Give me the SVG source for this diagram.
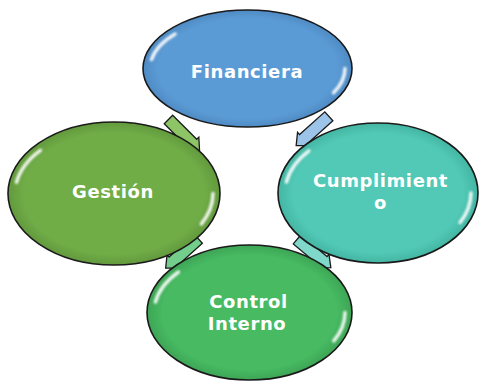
<svg xmlns="http://www.w3.org/2000/svg" width="479" height="381" viewBox="0 0 479 381">
<defs>
<style>
.node{stroke:#1a1a1a;stroke-width:1.6}
.arrow{stroke:#1a1a1a;stroke-width:1.3;stroke-linejoin:miter}
.hl{fill:none;stroke:#ffffff;stroke-width:3.5;stroke-linecap:round;opacity:0.9;filter:url(#blur)}
.lbl{font-family:"DejaVu Sans",Verdana,sans-serif;font-weight:bold;font-size:18px;fill:#ffffff;text-anchor:middle;letter-spacing:0.6px}
</style>
<filter id="blur" x="-50%" y="-50%" width="200%" height="200%"><feGaussianBlur stdDeviation="1"/></filter>
<radialGradient id="gBlue" cx="50%" cy="50%" r="50%"><stop offset="0.85" stop-color="#5B9BD5"/><stop offset="1" stop-color="#4F8BC4"/></radialGradient>
<radialGradient id="gTeal" cx="50%" cy="50%" r="50%"><stop offset="0.85" stop-color="#51C9B6"/><stop offset="1" stop-color="#44B5A3"/></radialGradient>
<radialGradient id="gOlive" cx="50%" cy="50%" r="50%"><stop offset="0.85" stop-color="#70AD47"/><stop offset="1" stop-color="#62993D"/></radialGradient>
<radialGradient id="gGreen" cx="50%" cy="50%" r="50%"><stop offset="0.85" stop-color="#47BA62"/><stop offset="1" stop-color="#3DA555"/></radialGradient>
<polygon id="arw" points="-22,-6 12,-6 12,-9 22,0 12,9 12,6 -22,6"/>
</defs>
<rect width="479" height="381" fill="#ffffff"/>
<g id="connectors">
<use href="#arw" class="arrow" fill="#8CC466" transform="translate(184,135) rotate(45)"/>
<use href="#arw" class="arrow" fill="#9CC3E8" transform="translate(312.5,131) rotate(138)"/>
<use href="#arw" class="arrow" fill="#7FD8CA" transform="translate(314,253.5) rotate(40)"/>
<use href="#arw" class="arrow" fill="#72CE8A" transform="translate(182,253.5) rotate(138)"/>
</g>
<g id="financiera">
<ellipse class="node" cx="247.5" cy="68.5" rx="104.5" ry="58.5" fill="url(#gBlue)"/>
<path class="hl" d="M151.5,59.5 A97.5,51.5 0 0 1 175.1,34.0"/>
<path class="hl" d="M345,68.5 A97.5,51.5 0 0 1 333.6,92.7"/>
<text class="lbl" x="247" y="78">Financiera</text>
</g>
<g id="cumplimiento">
<ellipse class="node" cx="378" cy="193" rx="100" ry="70" fill="url(#gTeal)"/>
<path class="hl" d="M286.4,182.0 A93,63 0 0 1 308.9,150.9"/>
<path class="hl" d="M471,193 A93,63 0 0 1 460.1,222.5"/>
<text class="lbl" x="380.5" y="187">Cumplimient</text>
<text class="lbl" x="380.5" y="209">o</text>
</g>
<g id="gestion">
<ellipse class="node" cx="114" cy="193.5" rx="106" ry="71.5" fill="url(#gOlive)"/>
<path class="hl" d="M16.5,182.3 A99,64.5 0 0 1 40.4,150.3"/>
<path class="hl" d="M213,193.5 A99,64.5 0 0 1 201.4,223.8"/>
<text class="lbl" x="113" y="198">Gestión</text>
</g>
<g id="control-interno">
<ellipse class="node" cx="249.5" cy="312.5" rx="102.5" ry="67.5" fill="url(#gGreen)"/>
<path class="hl" d="M155.4,302.0 A95.5,60.5 0 0 1 178.5,272.0"/>
<path class="hl" d="M345,312.5 A95.5,60.5 0 0 1 333.8,340.9"/>
<text class="lbl" x="248.5" y="308">Control</text>
<text class="lbl" x="247" y="330">Interno</text>
</g>
</svg>
